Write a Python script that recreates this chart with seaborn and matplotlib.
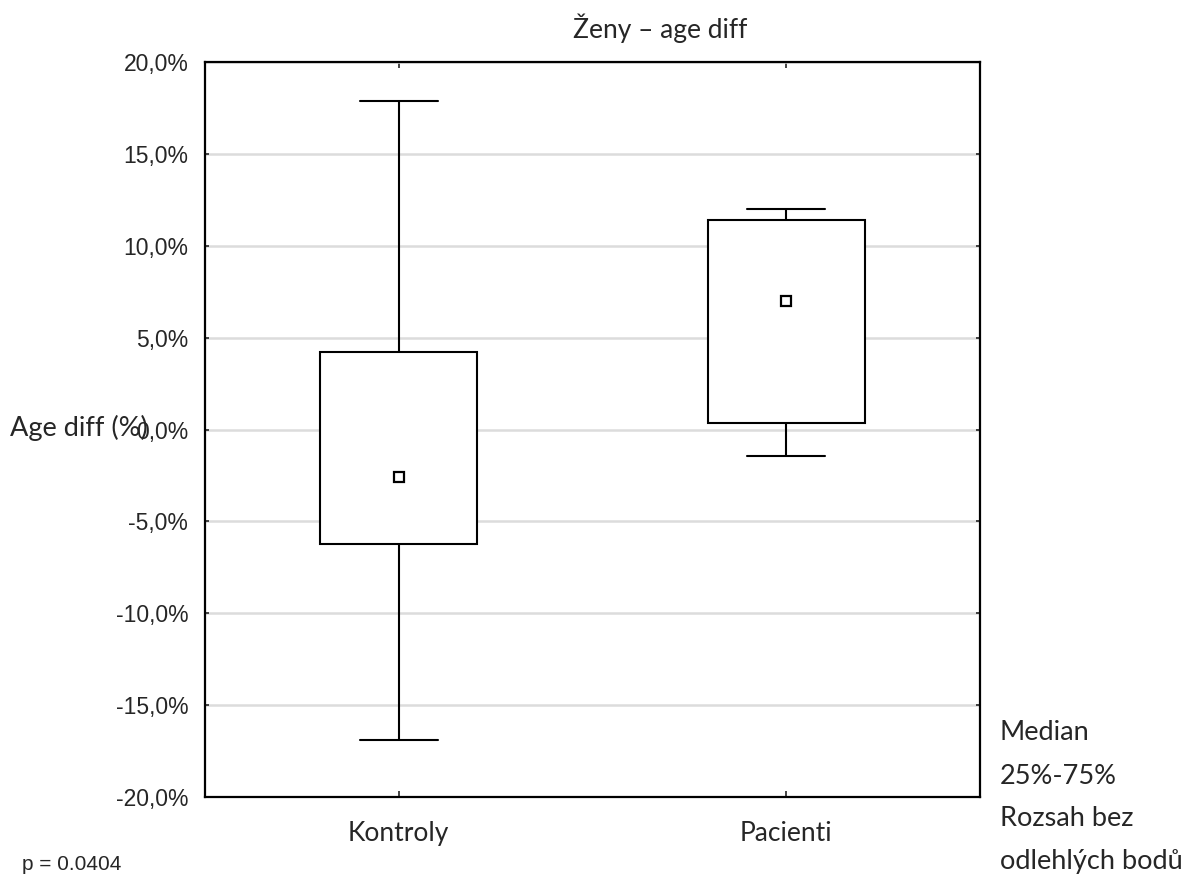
import numpy as np
import pandas as pd
import matplotlib
matplotlib.use("Agg")
import matplotlib.pyplot as plt
import seaborn as sns

# ---- data ----
categories = ["Kontroly", "Pacienti"]
whisker_low = [-16.9, -1.45]
q1 = [-6.25, 0.35]
medians = [-2.6, 7.0]
q3 = [4.2, 11.4]
whisker_high = [17.9, 12.0]

ytick_values = [-20, -15, -10, -5, 0, 5, 10, 15, 20]
ytick_labels = ["-20,0%", "-15,0%", "-10,0%", "-5,0%", "0,0%",
                "5,0%", "10,0%", "15,0%", "20,0%"]

title = "Ženy – age diff"
ylabel = "Age diff (%)"
legend_lines = ["Median", "25%-75%", "Rozsah bez", "odlehlých bodů"]
pvalue_text = "p = 0.0404"

# five-number summaries -> rows; with whis=(0,100) the box/whiskers reproduce them
rows = []
for c, lo, a, m, b, hi in zip(categories, whisker_low, q1, medians, q3, whisker_high):
    for v in (lo, a, m, b, hi):
        rows.append({"group": c, "value": v})
df = pd.DataFrame(rows)

sns.set_style("white")
plt.rcParams["font.family"] = ["Lato", "DejaVu Sans"]

fig = plt.figure(figsize=(11.95, 8.81), dpi=100)
ax = fig.add_axes([205 / 1195, 84 / 881, 775 / 1195, 735 / 881])

sns.boxplot(data=df, x="group", y="value", order=categories, ax=ax,
            whis=(0, 100), width=0.405, color="white", linecolor="black",
            linewidth=1.5, fliersize=0,
            medianprops={"visible": False})

sns.pointplot(x=categories, y=medians, order=categories, ax=ax,
              linestyles="none", markers="s", color="black",
              markersize=7, markerfacecolor="white", markeredgewidth=1.6,
              errorbar=None, zorder=6)

ax.set_xlim(-0.5, 1.5)
ax.set_ylim(-20, 20)
ax.set_yticks(ytick_values)
ax.set_yticklabels(ytick_labels, family="Liberation Sans", fontsize=16.5)
ax.set_xticks(range(len(categories)))
ax.set_xticklabels(categories, fontsize=19)
ax.tick_params(axis="x", direction="in", length=4, width=1.2, pad=17,
               top=True, bottom=True)
ax.tick_params(axis="y", direction="in", length=3, width=1.2, pad=12,
               left=True, right=True)

ax.grid(axis="y", color="#dcdcdc", linewidth=1.8)
ax.grid(axis="x", visible=False)
ax.set_axisbelow(True)
for s in ax.spines.values():
    s.set_visible(True)
    s.set_color("black")
    s.set_linewidth(1.6)

ax.set_xlabel("")
ax.set_ylabel(ylabel, rotation=0, fontsize=19.5, ha="left", va="center")
ax.yaxis.set_label_coords((10 - 205) / 775, (797 - 428) / 735)

fig.text(660 / 1195, 1 - 28 / 881, title, ha="center", va="center", fontsize=19)

for i, y in enumerate([733, 776, 819, 862]):
    fig.text(1000 / 1195, 1 - y / 881, legend_lines[i],
             ha="left", va="center", fontsize=19.5)

fig.text(22 / 1195, 1 - 864 / 881, pvalue_text, ha="left", va="center",
         family="Liberation Sans", fontsize=15)

fig.savefig("out.png", dpi=100)
